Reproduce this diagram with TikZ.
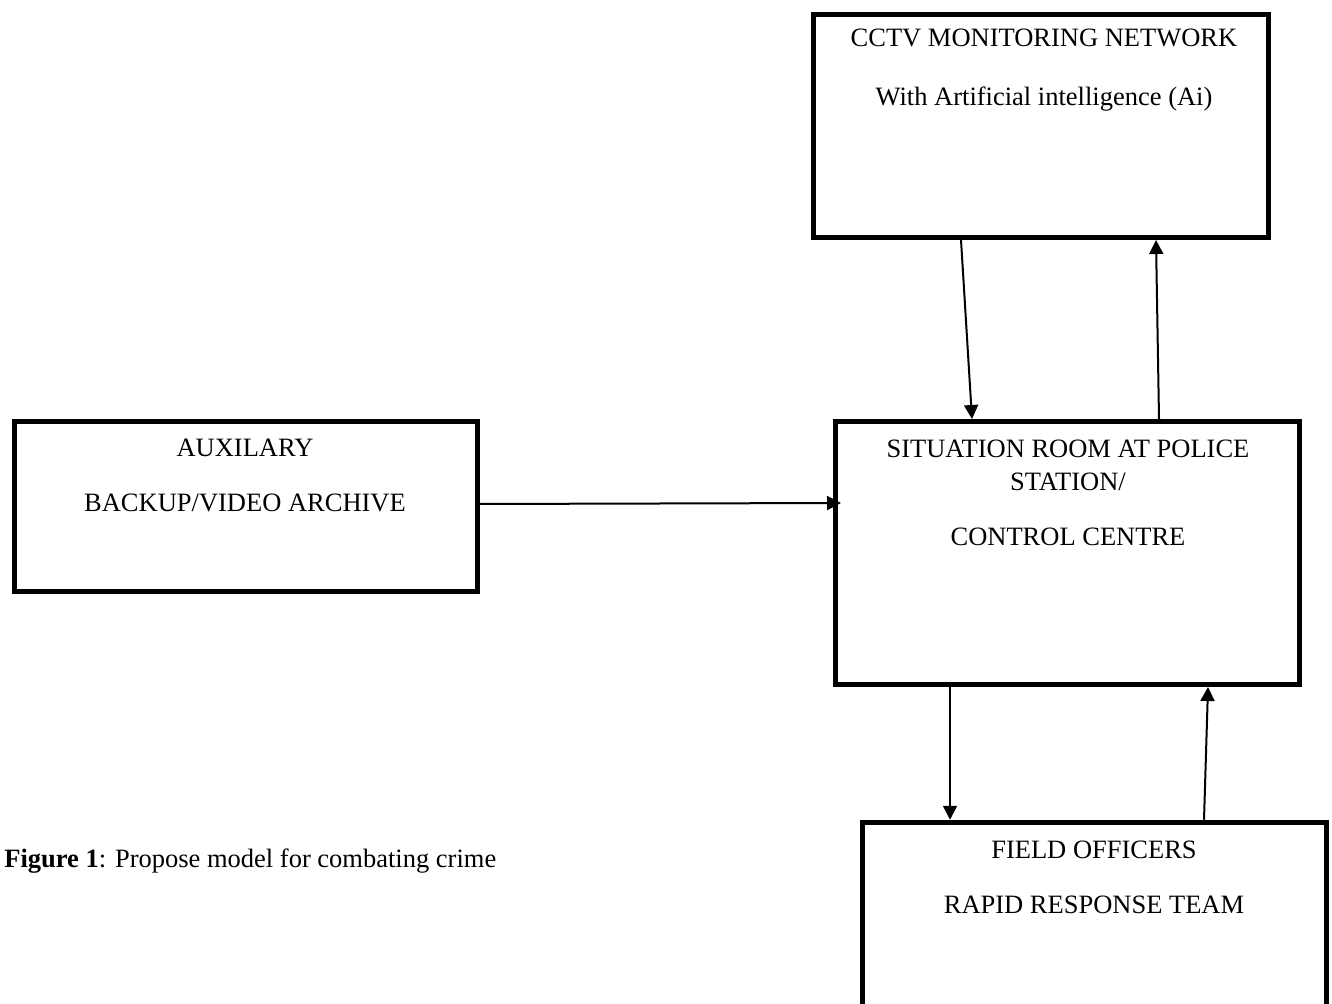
\documentclass[tikz,border=0pt]{standalone}
\usepackage{fontspec}
\setmainfont{Liberation Serif}
\usetikzlibrary{arrows.meta}

\tikzstyle{blockbox} = [draw=black, fill=white, line width=2.5pt,
    rectangle, inner sep=0pt]
\tikzstyle{boxtext} = [anchor=base, inner sep=0pt,
    font=\fontsize{13.25}{16.5}\selectfont]
\tikzstyle{flow} = [line width=1pt, -{Triangle[length=7pt,width=7pt]}]

\begin{document}
\begin{tikzpicture}[x=0.5pt, y=-0.5pt]
\useasboundingbox (0,0) rectangle (1332,1004);
%------------ Boxes ---------------------
\node [blockbox, minimum width=227.5pt, minimum height=111.5pt] (cctv) at (1041,126) {};
\node [blockbox, minimum width=231.5pt, minimum height=85pt] (aux) at (246,506.5) {};
\node [blockbox, minimum width=232pt, minimum height=131.5pt] (sit) at (1067.5,553) {};
\node [blockbox, minimum width=232pt, minimum height=94.75pt] (field) at (1094.5,917) {};
%------------ Box texts ---------------------
\node [boxtext] (cctvA) at (1044,47) {CCTV MONITORING NETWORK};
\node [boxtext] (cctvB) at (1044,106) {With Artificial intelligence (Ai)};
\node [boxtext] (auxA) at (245,457) {AUXILARY};
\node [boxtext] (auxB) at (245,512) {BACKUP/VIDEO ARCHIVE};
\node [boxtext] (sitA) at (1068,458) {SITUATION ROOM AT POLICE};
\node [boxtext] (sitB) at (1068,491) {STATION/};
\node [boxtext] (sitC) at (1068,546) {CONTROL CENTRE};
\node [boxtext] (fieldA) at (1094,858) {FIELD OFFICERS};
\node [boxtext] (fieldB) at (1094,913) {RAPID RESPONSE TEAM};
%------------ Connections ---------------------
\draw [flow] ([xshift=-40pt]cctv.south) -- ([xshift=-47.75pt]sit.north);
\draw [flow] ([xshift=45.75pt]sit.north) -- ([xshift=57.5pt]cctv.south);
\draw [flow] ([yshift=1.25pt]aux.east) -- ([xshift=4pt,yshift=25pt]sit.west);
\draw [flow] ([xshift=-58.75pt]sit.south) -- ([xshift=-72.25pt]field.north);
\draw [flow] ([xshift=54.75pt]field.north) -- ([xshift=70.25pt]sit.south);
%------------ Caption ---------------------
\node [boxtext, anchor=base west] (caption) at (4,867)
{\textbf{Figure 1}: Propose model for combating crime};
\end{tikzpicture}
\end{document}
